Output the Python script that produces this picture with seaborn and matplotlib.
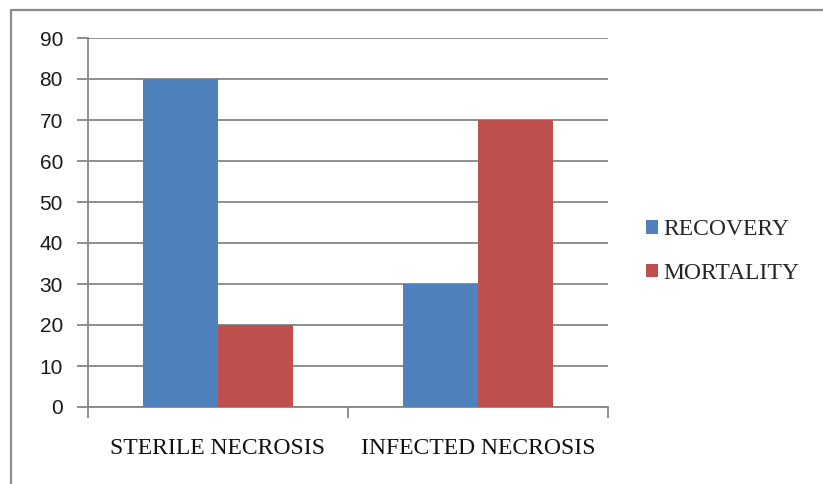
import matplotlib
matplotlib.use("Agg")
import matplotlib.pyplot as plt
from matplotlib.lines import Line2D
from matplotlib.patches import Patch
import seaborn as sns
import pandas as pd

categories = ["STERILE NECROSIS", "INFECTED NECROSIS"]
series = ["RECOVERY", "MORTALITY"]
recovery = [80, 30]
mortality = [20, 70]
colors = ["#4F81BD", "#C0504D"]
yticks = [0, 10, 20, 30, 40, 50, 60, 70, 80, 90]

df = pd.DataFrame({
    "category": categories * 2,
    "series": [series[0]] * 2 + [series[1]] * 2,
    "value": recovery + mortality,
})

sns.set_theme(style="white")
plt.rcParams["font.family"] = ["Liberation Serif", "DejaVu Serif"]

W, H = 823, 484
fig = plt.figure(figsize=(W / 100, H / 100), dpi=100)
ax = fig.add_axes([88 / W, 1 - 407 / H, (608 - 88) / W, (407 - 38) / H])

grid_c = "#868686"
sns.barplot(data=df, x="category", y="value", hue="series", order=categories,
            hue_order=series, palette=colors, width=0.58, saturation=1,
            edgecolor="none", linewidth=0, ax=ax, legend=False, zorder=3)

ax.set_ylim(0, 90)
ax.set_xlim(-0.5, 1.5)
ax.set_yticks(yticks)
ax.set_yticklabels([str(v) for v in yticks], family="Liberation Sans",
                   fontsize=15, color="#1a1a1a")
ax.yaxis.grid(True, color=grid_c, linewidth=1.3, zorder=0)
ax.set_axisbelow(True)
ax.tick_params(axis="y", which="major", length=8, width=1.3, color=grid_c,
               pad=10, left=True)
ax.tick_params(axis="x", which="major", length=0, pad=22, labelsize=17,
               labelcolor="#111111")
ax.set_xticks([-0.5, 0.5, 1.5], minor=True)
ax.tick_params(axis="x", which="minor", length=8, width=1.3, color=grid_c,
               bottom=True)
ax.set_xlabel("")
ax.set_ylabel("")
for s in ["top", "right"]:
    ax.spines[s].set_visible(False)
for s in ["left", "bottom"]:
    ax.spines[s].set_color(grid_c)
    ax.spines[s].set_linewidth(1.3)

handles = [Patch(facecolor=c, edgecolor="none") for c in colors]
fig.legend(handles, series, loc="center left",
           bbox_to_anchor=(646 / W, 1 - 251.5 / H), frameon=False,
           fontsize=17, handlelength=0.5, handleheight=0.5,
           handletextpad=0.25, labelspacing=0.95, borderaxespad=0,
           borderpad=0)

# outer chart frame
fig.add_artist(Line2D([11 / W, 11 / W], [0, 1 - 10 / H], color="#8c8c8c",
                      linewidth=1.6, transform=fig.transFigure))
fig.add_artist(Line2D([11 / W, 1], [1 - 10 / H, 1 - 10 / H], color="#8c8c8c",
                      linewidth=1.6, transform=fig.transFigure))

fig.savefig("out.png", dpi=100)
